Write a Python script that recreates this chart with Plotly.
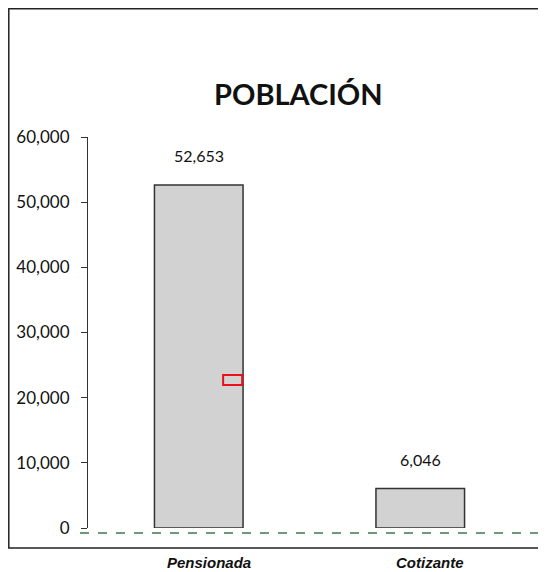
import plotly.graph_objects as go

categories = ["Pensionada", "Cotizante"]
values = [52653, 6046]
value_labels = ["52,653", "6,046"]
y_ticks = [0, 10000, 20000, 30000, 40000, 50000, 60000]
y_tick_labels = ["0", "10,000", "20,000", "30,000", "40,000", "50,000", "60,000"]

fig = go.Figure()
fig.add_trace(go.Bar(
    x=categories, y=values, width=0.4,
    marker=dict(color="#d2d2d2", line=dict(color="#333333", width=1.5)),
    hoverinfo="skip",
))

for c, v, t in zip(categories, values, value_labels):
    fig.add_annotation(x=c, y=v, text=t, showarrow=False, yshift=29,
                       font=dict(family="Lato, Open Sans, sans-serif", size=16, color="#111"))

# category labels (slightly offset like the original)
for c in categories:
    fig.add_annotation(x=c, xref="x", yref="paper", y=0, yanchor="middle", text="<b><i>%s</i></b>" % c,
                       showarrow=False, yshift=-34, xshift=10,
                       font=dict(family="Liberation Sans, Arial, sans-serif", size=15, color="#111"))

fig.add_annotation(xref="paper", yref="paper", x=0.476, y=1.1125, yanchor="middle",
                   text="<b>POBLACIÓN</b>", showarrow=False,
                   font=dict(family="Lato, Open Sans, sans-serif", size=29, color="#111"))

# outer frame
fig.add_shape(type="rect", xref="paper", yref="paper", x0=-0.1788, x1=1.1, y0=-0.051, y1=1.3279,
              line=dict(color="#222", width=1.5), layer="below")
# dashed baseline
fig.add_shape(type="line", xref="paper", yref="paper", x0=-0.018, x1=1.1, y0=-0.013, y1=-0.013,
              line=dict(color="#3d7a45", width=1.5, dash="dash"))
# red marker box
fig.add_shape(type="rect", xref="paper", yref="paper", x0=0.305, x1=0.348, y0=0.366, y1=0.391,
              line=dict(color="#e8111b", width=2))

fig.update_layout(
    width=546, height=572,
    margin=dict(l=80, r=23, t=129, b=52),
    paper_bgcolor="white", plot_bgcolor="white",
    showlegend=False,
    font=dict(family="Lato, Open Sans, sans-serif", color="#111"),
)
fig.update_xaxes(
    range=[-0.5, 1.5], showline=False, showgrid=False, zeroline=False, automargin=False,
    showticklabels=False, ticks="",
)
fig.update_yaxes(
    range=[0, 60000], showgrid=False, zeroline=False, automargin=False,
    showline=True, linecolor="#333", linewidth=1.2,
    ticks="outside", ticklen=6, tickcolor="#333",
    tickvals=y_ticks, ticktext=y_tick_labels,
    tickfont=dict(family="Lato, Open Sans, sans-serif", size=17, color="#111"),
    ticklabelstandoff=8,
)

fig.write_html("out.html")
